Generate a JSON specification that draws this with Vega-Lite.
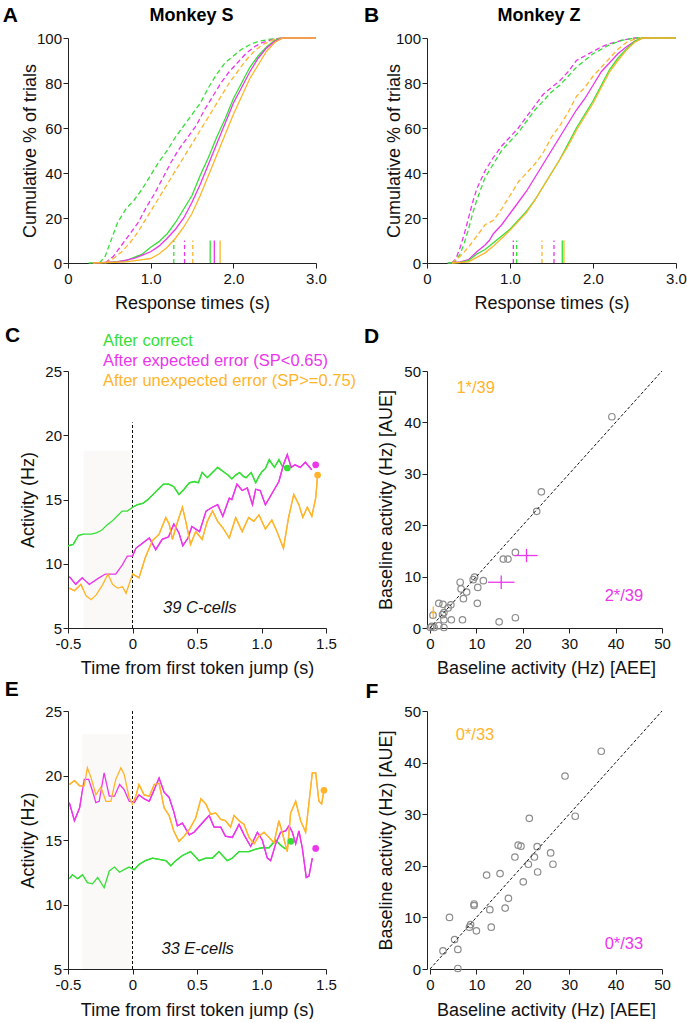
{
"$schema":"https://vega.github.io/schema/vega-lite/v6.json",
"padding":{"left":2,"top":5,"right":0,"bottom":0},
"bounds":"flush",
"columns":2,
"spacing":{"row":83,"column":101},
"config":{
 "font":"Liberation Sans",
 "view":{"stroke":null},
 "axis":{"grid":false,"domainColor":"#222222","tickColor":"#222222","domainWidth":1,"tickWidth":1,"labelFontSize":15,"labelColor":"#111111","titleFontSize":18,"titleFontWeight":"normal","titleColor":"#111111","labelFlush":false,"labelOverlap":false,"zindex":1,"titleAlign":"center","titleBaseline":"middle"},
 "axisX":{"labelPadding":3.5},
 "axisY":{"labelPadding":1.5}
},
"datasets":{
"cdfA":[
{"c":"g","s":"d","t":0.38,"p":0},{"c":"g","s":"d","t":0.45,"p":3},{"c":"g","s":"d","t":0.52,"p":10},{"c":"g","s":"d","t":0.6,"p":18},{"c":"g","s":"d","t":0.7,"p":24},{"c":"g","s":"d","t":0.8,"p":28},{"c":"g","s":"d","t":0.9,"p":33},{"c":"g","s":"d","t":1.0,"p":39},{"c":"g","s":"d","t":1.1,"p":45},{"c":"g","s":"d","t":1.2,"p":50},{"c":"g","s":"d","t":1.3,"p":56},{"c":"g","s":"d","t":1.4,"p":61},{"c":"g","s":"d","t":1.5,"p":66},{"c":"g","s":"d","t":1.6,"p":71},{"c":"g","s":"d","t":1.7,"p":78},{"c":"g","s":"d","t":1.8,"p":84},{"c":"g","s":"d","t":1.9,"p":89},{"c":"g","s":"d","t":2.0,"p":92},{"c":"g","s":"d","t":2.1,"p":95},{"c":"g","s":"d","t":2.2,"p":97},{"c":"g","s":"d","t":2.3,"p":98.5},{"c":"g","s":"d","t":2.45,"p":99.5},{"c":"g","s":"d","t":2.6,"p":100},{"c":"g","s":"d","t":3.0,"p":100},
{"c":"m","s":"d","t":0.45,"p":0},{"c":"m","s":"d","t":0.55,"p":3},{"c":"m","s":"d","t":0.65,"p":8},{"c":"m","s":"d","t":0.75,"p":13},{"c":"m","s":"d","t":0.85,"p":18},{"c":"m","s":"d","t":0.95,"p":25},{"c":"m","s":"d","t":1.05,"p":31},{"c":"m","s":"d","t":1.15,"p":38},{"c":"m","s":"d","t":1.25,"p":45},{"c":"m","s":"d","t":1.35,"p":51},{"c":"m","s":"d","t":1.45,"p":56},{"c":"m","s":"d","t":1.55,"p":61},{"c":"m","s":"d","t":1.65,"p":68},{"c":"m","s":"d","t":1.75,"p":74},{"c":"m","s":"d","t":1.85,"p":80},{"c":"m","s":"d","t":1.95,"p":85},{"c":"m","s":"d","t":2.05,"p":89},{"c":"m","s":"d","t":2.15,"p":93},{"c":"m","s":"d","t":2.25,"p":96},{"c":"m","s":"d","t":2.35,"p":98},{"c":"m","s":"d","t":2.5,"p":99.5},{"c":"m","s":"d","t":2.6,"p":100},{"c":"m","s":"d","t":3.0,"p":100},
{"c":"o","s":"d","t":0.45,"p":0},{"c":"o","s":"d","t":0.55,"p":2},{"c":"o","s":"d","t":0.65,"p":5},{"c":"o","s":"d","t":0.75,"p":9},{"c":"o","s":"d","t":0.85,"p":14},{"c":"o","s":"d","t":0.95,"p":20},{"c":"o","s":"d","t":1.05,"p":26},{"c":"o","s":"d","t":1.15,"p":32},{"c":"o","s":"d","t":1.25,"p":38},{"c":"o","s":"d","t":1.35,"p":44},{"c":"o","s":"d","t":1.45,"p":50},{"c":"o","s":"d","t":1.55,"p":56},{"c":"o","s":"d","t":1.65,"p":62},{"c":"o","s":"d","t":1.75,"p":68},{"c":"o","s":"d","t":1.85,"p":74},{"c":"o","s":"d","t":1.95,"p":80},{"c":"o","s":"d","t":2.05,"p":85},{"c":"o","s":"d","t":2.15,"p":90},{"c":"o","s":"d","t":2.25,"p":94},{"c":"o","s":"d","t":2.35,"p":97},{"c":"o","s":"d","t":2.5,"p":99.5},{"c":"o","s":"d","t":2.6,"p":100},{"c":"o","s":"d","t":3.0,"p":100},
{"c":"g","s":"s","t":0.25,"p":0},{"c":"g","s":"s","t":0.5,"p":0.3},{"c":"g","s":"s","t":0.7,"p":1},{"c":"g","s":"s","t":0.8,"p":2.5},{"c":"g","s":"s","t":0.9,"p":4},{"c":"g","s":"s","t":1.0,"p":7},{"c":"g","s":"s","t":1.1,"p":9.5},{"c":"g","s":"s","t":1.2,"p":13},{"c":"g","s":"s","t":1.3,"p":18},{"c":"g","s":"s","t":1.4,"p":24},{"c":"g","s":"s","t":1.5,"p":30},{"c":"g","s":"s","t":1.6,"p":39},{"c":"g","s":"s","t":1.7,"p":47},{"c":"g","s":"s","t":1.8,"p":56},{"c":"g","s":"s","t":1.9,"p":64},{"c":"g","s":"s","t":2.0,"p":73},{"c":"g","s":"s","t":2.1,"p":80},{"c":"g","s":"s","t":2.2,"p":87},{"c":"g","s":"s","t":2.3,"p":92},{"c":"g","s":"s","t":2.4,"p":96},{"c":"g","s":"s","t":2.5,"p":99},{"c":"g","s":"s","t":2.6,"p":100},{"c":"g","s":"s","t":3.0,"p":100},
{"c":"m","s":"s","t":0.3,"p":0},{"c":"m","s":"s","t":0.6,"p":0.5},{"c":"m","s":"s","t":0.8,"p":2},{"c":"m","s":"s","t":0.9,"p":3.5},{"c":"m","s":"s","t":1.0,"p":5},{"c":"m","s":"s","t":1.1,"p":7.5},{"c":"m","s":"s","t":1.2,"p":11},{"c":"m","s":"s","t":1.3,"p":15},{"c":"m","s":"s","t":1.4,"p":20},{"c":"m","s":"s","t":1.5,"p":27},{"c":"m","s":"s","t":1.6,"p":35},{"c":"m","s":"s","t":1.7,"p":44},{"c":"m","s":"s","t":1.8,"p":53},{"c":"m","s":"s","t":1.9,"p":62},{"c":"m","s":"s","t":2.0,"p":71},{"c":"m","s":"s","t":2.1,"p":78},{"c":"m","s":"s","t":2.2,"p":85},{"c":"m","s":"s","t":2.3,"p":91},{"c":"m","s":"s","t":2.4,"p":95.5},{"c":"m","s":"s","t":2.5,"p":98.5},{"c":"m","s":"s","t":2.6,"p":100},{"c":"m","s":"s","t":3.0,"p":100},
{"c":"o","s":"s","t":0.3,"p":0},{"c":"o","s":"s","t":0.7,"p":0.5},{"c":"o","s":"s","t":0.9,"p":1.5},{"c":"o","s":"s","t":1.0,"p":2},{"c":"o","s":"s","t":1.1,"p":4},{"c":"o","s":"s","t":1.2,"p":7},{"c":"o","s":"s","t":1.3,"p":11},{"c":"o","s":"s","t":1.4,"p":16},{"c":"o","s":"s","t":1.5,"p":22},{"c":"o","s":"s","t":1.6,"p":30},{"c":"o","s":"s","t":1.7,"p":39},{"c":"o","s":"s","t":1.8,"p":48},{"c":"o","s":"s","t":1.9,"p":57},{"c":"o","s":"s","t":2.0,"p":66},{"c":"o","s":"s","t":2.1,"p":74},{"c":"o","s":"s","t":2.2,"p":82},{"c":"o","s":"s","t":2.3,"p":88},{"c":"o","s":"s","t":2.4,"p":94},{"c":"o","s":"s","t":2.5,"p":98},{"c":"o","s":"s","t":2.6,"p":100},{"c":"o","s":"s","t":3.0,"p":100}
],
"cdfB":[
{"c":"m","s":"d","t":0.3,"p":0},{"c":"m","s":"d","t":0.35,"p":2},{"c":"m","s":"d","t":0.4,"p":7},{"c":"m","s":"d","t":0.45,"p":13},{"c":"m","s":"d","t":0.5,"p":20},{"c":"m","s":"d","t":0.55,"p":27},{"c":"m","s":"d","t":0.6,"p":33},{"c":"m","s":"d","t":0.65,"p":37},{"c":"m","s":"d","t":0.7,"p":41},{"c":"m","s":"d","t":0.8,"p":47},{"c":"m","s":"d","t":0.9,"p":52},{"c":"m","s":"d","t":1.0,"p":56},{"c":"m","s":"d","t":1.1,"p":60},{"c":"m","s":"d","t":1.2,"p":65},{"c":"m","s":"d","t":1.3,"p":70},{"c":"m","s":"d","t":1.4,"p":75},{"c":"m","s":"d","t":1.5,"p":78},{"c":"m","s":"d","t":1.6,"p":81},{"c":"m","s":"d","t":1.7,"p":85},{"c":"m","s":"d","t":1.8,"p":90},{"c":"m","s":"d","t":1.9,"p":92},{"c":"m","s":"d","t":2.0,"p":94},{"c":"m","s":"d","t":2.1,"p":96},{"c":"m","s":"d","t":2.2,"p":97.5},{"c":"m","s":"d","t":2.35,"p":99},{"c":"m","s":"d","t":2.5,"p":100},{"c":"m","s":"d","t":3.0,"p":100},
{"c":"g","s":"d","t":0.3,"p":0},{"c":"g","s":"d","t":0.35,"p":1},{"c":"g","s":"d","t":0.4,"p":4},{"c":"g","s":"d","t":0.45,"p":9},{"c":"g","s":"d","t":0.5,"p":15},{"c":"g","s":"d","t":0.55,"p":22},{"c":"g","s":"d","t":0.6,"p":28},{"c":"g","s":"d","t":0.65,"p":33},{"c":"g","s":"d","t":0.7,"p":38},{"c":"g","s":"d","t":0.8,"p":44},{"c":"g","s":"d","t":0.9,"p":50},{"c":"g","s":"d","t":1.0,"p":54},{"c":"g","s":"d","t":1.1,"p":58},{"c":"g","s":"d","t":1.2,"p":63},{"c":"g","s":"d","t":1.3,"p":68},{"c":"g","s":"d","t":1.4,"p":72},{"c":"g","s":"d","t":1.5,"p":76},{"c":"g","s":"d","t":1.6,"p":79},{"c":"g","s":"d","t":1.7,"p":83},{"c":"g","s":"d","t":1.8,"p":87},{"c":"g","s":"d","t":1.9,"p":90},{"c":"g","s":"d","t":2.0,"p":93},{"c":"g","s":"d","t":2.1,"p":95},{"c":"g","s":"d","t":2.2,"p":97},{"c":"g","s":"d","t":2.35,"p":99},{"c":"g","s":"d","t":2.5,"p":100},{"c":"g","s":"d","t":3.0,"p":100},
{"c":"o","s":"d","t":0.3,"p":0},{"c":"o","s":"d","t":0.4,"p":3},{"c":"o","s":"d","t":0.5,"p":7},{"c":"o","s":"d","t":0.6,"p":12},{"c":"o","s":"d","t":0.7,"p":17},{"c":"o","s":"d","t":0.8,"p":19},{"c":"o","s":"d","t":0.9,"p":24},{"c":"o","s":"d","t":1.0,"p":30},{"c":"o","s":"d","t":1.1,"p":36},{"c":"o","s":"d","t":1.2,"p":40},{"c":"o","s":"d","t":1.3,"p":44},{"c":"o","s":"d","t":1.4,"p":49},{"c":"o","s":"d","t":1.5,"p":56},{"c":"o","s":"d","t":1.6,"p":61},{"c":"o","s":"d","t":1.7,"p":67},{"c":"o","s":"d","t":1.8,"p":74},{"c":"o","s":"d","t":1.9,"p":78},{"c":"o","s":"d","t":2.0,"p":83},{"c":"o","s":"d","t":2.1,"p":87},{"c":"o","s":"d","t":2.2,"p":91},{"c":"o","s":"d","t":2.3,"p":95},{"c":"o","s":"d","t":2.4,"p":98},{"c":"o","s":"d","t":2.5,"p":99.5},{"c":"o","s":"d","t":2.6,"p":100},{"c":"o","s":"d","t":3.0,"p":100},
{"c":"m","s":"s","t":0.25,"p":0},{"c":"m","s":"s","t":0.4,"p":0.5},{"c":"m","s":"s","t":0.5,"p":1.5},{"c":"m","s":"s","t":0.6,"p":5},{"c":"m","s":"s","t":0.7,"p":8},{"c":"m","s":"s","t":0.75,"p":10},{"c":"m","s":"s","t":0.8,"p":13},{"c":"m","s":"s","t":0.9,"p":17},{"c":"m","s":"s","t":1.0,"p":22},{"c":"m","s":"s","t":1.1,"p":27},{"c":"m","s":"s","t":1.2,"p":32},{"c":"m","s":"s","t":1.3,"p":38},{"c":"m","s":"s","t":1.4,"p":44},{"c":"m","s":"s","t":1.5,"p":50},{"c":"m","s":"s","t":1.6,"p":56},{"c":"m","s":"s","t":1.7,"p":62},{"c":"m","s":"s","t":1.8,"p":68},{"c":"m","s":"s","t":1.9,"p":73},{"c":"m","s":"s","t":2.0,"p":79},{"c":"m","s":"s","t":2.1,"p":85},{"c":"m","s":"s","t":2.2,"p":89},{"c":"m","s":"s","t":2.3,"p":93},{"c":"m","s":"s","t":2.4,"p":96},{"c":"m","s":"s","t":2.5,"p":98.5},{"c":"m","s":"s","t":2.6,"p":100},{"c":"m","s":"s","t":3.0,"p":100},
{"c":"g","s":"s","t":0.25,"p":0},{"c":"g","s":"s","t":0.4,"p":0.3},{"c":"g","s":"s","t":0.5,"p":1},{"c":"g","s":"s","t":0.6,"p":4},{"c":"g","s":"s","t":0.7,"p":6},{"c":"g","s":"s","t":0.8,"p":9},{"c":"g","s":"s","t":0.9,"p":12},{"c":"g","s":"s","t":1.0,"p":15},{"c":"g","s":"s","t":1.1,"p":19},{"c":"g","s":"s","t":1.2,"p":23},{"c":"g","s":"s","t":1.3,"p":28},{"c":"g","s":"s","t":1.4,"p":34},{"c":"g","s":"s","t":1.5,"p":40},{"c":"g","s":"s","t":1.6,"p":46},{"c":"g","s":"s","t":1.7,"p":53},{"c":"g","s":"s","t":1.8,"p":60},{"c":"g","s":"s","t":1.9,"p":66},{"c":"g","s":"s","t":2.0,"p":72},{"c":"g","s":"s","t":2.1,"p":79},{"c":"g","s":"s","t":2.2,"p":86},{"c":"g","s":"s","t":2.3,"p":91},{"c":"g","s":"s","t":2.4,"p":95},{"c":"g","s":"s","t":2.5,"p":98.5},{"c":"g","s":"s","t":2.6,"p":100},{"c":"g","s":"s","t":3.0,"p":100},
{"c":"o","s":"s","t":0.3,"p":0},{"c":"o","s":"s","t":0.5,"p":0.5},{"c":"o","s":"s","t":0.6,"p":2.5},{"c":"o","s":"s","t":0.7,"p":4.5},{"c":"o","s":"s","t":0.8,"p":7.5},{"c":"o","s":"s","t":0.9,"p":11},{"c":"o","s":"s","t":1.0,"p":14.5},{"c":"o","s":"s","t":1.1,"p":18.5},{"c":"o","s":"s","t":1.2,"p":22.5},{"c":"o","s":"s","t":1.3,"p":28},{"c":"o","s":"s","t":1.4,"p":34},{"c":"o","s":"s","t":1.5,"p":40},{"c":"o","s":"s","t":1.6,"p":46},{"c":"o","s":"s","t":1.7,"p":52},{"c":"o","s":"s","t":1.8,"p":59},{"c":"o","s":"s","t":1.9,"p":65},{"c":"o","s":"s","t":2.0,"p":71},{"c":"o","s":"s","t":2.1,"p":78},{"c":"o","s":"s","t":2.2,"p":85},{"c":"o","s":"s","t":2.3,"p":90},{"c":"o","s":"s","t":2.4,"p":94.5},{"c":"o","s":"s","t":2.5,"p":98},{"c":"o","s":"s","t":2.6,"p":100},{"c":"o","s":"s","t":3.0,"p":100}
],
"medA":[{"c":"g","s":"d","t":1.28},{"c":"m","s":"d","t":1.41},{"c":"o","s":"d","t":1.51},{"c":"g","s":"s","t":1.72},{"c":"m","s":"s","t":1.77},{"c":"o","s":"s","t":1.84}],
"medB":[{"c":"m","s":"d","t":1.04},{"c":"g","s":"d","t":1.08},{"c":"o","s":"d","t":1.385},{"c":"m","s":"d","t":1.53},{"c":"g","s":"s","t":1.63},{"c":"o","s":"s","t":1.65}],
"tsC":[
{"c":"g","t":-0.5,"v":11.4},{"c":"g","t":-0.46,"v":11.5},{"c":"g","t":-0.42,"v":12.2},{"c":"g","t":-0.38,"v":12.3},{"c":"g","t":-0.32,"v":12.3},{"c":"g","t":-0.28,"v":12.4},{"c":"g","t":-0.24,"v":12.6},{"c":"g","t":-0.2,"v":13.0},{"c":"g","t":-0.16,"v":13.3},{"c":"g","t":-0.12,"v":13.7},{"c":"g","t":-0.08,"v":14.1},{"c":"g","t":-0.04,"v":14.1},{"c":"g","t":0,"v":14.4},{"c":"g","t":0.04,"v":14.6},{"c":"g","t":0.08,"v":14.7},{"c":"g","t":0.12,"v":15.0},{"c":"g","t":0.16,"v":15.4},{"c":"g","t":0.2,"v":15.8},{"c":"g","t":0.24,"v":16.2},{"c":"g","t":0.28,"v":16.2},{"c":"g","t":0.32,"v":16.0},{"c":"g","t":0.36,"v":15.4},{"c":"g","t":0.4,"v":15.8},{"c":"g","t":0.44,"v":16.3},{"c":"g","t":0.48,"v":16.4},{"c":"g","t":0.51,"v":16.3},{"c":"g","t":0.54,"v":17.1},{"c":"g","t":0.58,"v":16.7},{"c":"g","t":0.62,"v":17.1},{"c":"g","t":0.66,"v":17.5},{"c":"g","t":0.7,"v":17.2},{"c":"g","t":0.74,"v":16.9},{"c":"g","t":0.77,"v":16.6},{"c":"g","t":0.8,"v":16.9},{"c":"g","t":0.83,"v":17.1},{"c":"g","t":0.86,"v":16.8},{"c":"g","t":0.88,"v":16.7},{"c":"g","t":0.92,"v":17.1},{"c":"g","t":0.955,"v":16.3},{"c":"g","t":0.98,"v":16.8},{"c":"g","t":1.006,"v":17.2},{"c":"g","t":1.03,"v":17.4},{"c":"g","t":1.06,"v":18.1},{"c":"g","t":1.08,"v":17.8},{"c":"g","t":1.1,"v":17.5},{"c":"g","t":1.135,"v":18.1},{"c":"g","t":1.16,"v":17.6},{"c":"g","t":1.19,"v":17.5},
{"c":"m","t":-0.49,"v":9.0},{"c":"m","t":-0.44,"v":8.4},{"c":"m","t":-0.39,"v":8.9},{"c":"m","t":-0.335,"v":8.4},{"c":"m","t":-0.26,"v":8.9},{"c":"m","t":-0.21,"v":9.2},{"c":"m","t":-0.13,"v":9.2},{"c":"m","t":-0.08,"v":9.9},{"c":"m","t":-0.04,"v":10.6},{"c":"m","t":0,"v":10.6},{"c":"m","t":0.026,"v":11.2},{"c":"m","t":0.077,"v":11.6},{"c":"m","t":0.13,"v":12.0},{"c":"m","t":0.18,"v":11.1},{"c":"m","t":0.23,"v":11.9},{"c":"m","t":0.28,"v":12.1},{"c":"m","t":0.32,"v":13.1},{"c":"m","t":0.36,"v":12.4},{"c":"m","t":0.39,"v":11.4},{"c":"m","t":0.43,"v":12.0},{"c":"m","t":0.46,"v":12.9},{"c":"m","t":0.52,"v":12.5},{"c":"m","t":0.57,"v":14.1},{"c":"m","t":0.62,"v":14.4},{"c":"m","t":0.66,"v":14.6},{"c":"m","t":0.7,"v":13.7},{"c":"m","t":0.75,"v":15.1},{"c":"m","t":0.77,"v":15.0},{"c":"m","t":0.81,"v":16.2},{"c":"m","t":0.85,"v":15.7},{"c":"m","t":0.89,"v":15.9},{"c":"m","t":0.93,"v":14.6},{"c":"m","t":0.955,"v":15.8},{"c":"m","t":0.99,"v":15.7},{"c":"m","t":1.03,"v":14.6},{"c":"m","t":1.06,"v":15.1},{"c":"m","t":1.1,"v":15.8},{"c":"m","t":1.135,"v":16.4},{"c":"m","t":1.17,"v":17.7},{"c":"m","t":1.2,"v":18.5},{"c":"m","t":1.23,"v":17.5},{"c":"m","t":1.26,"v":17.7},{"c":"m","t":1.3,"v":17.5},{"c":"m","t":1.34,"v":17.9},{"c":"m","t":1.39,"v":17.3},
{"c":"o","t":-0.49,"v":8.1},{"c":"o","t":-0.45,"v":7.9},{"c":"o","t":-0.4,"v":8.4},{"c":"o","t":-0.36,"v":7.5},{"c":"o","t":-0.32,"v":7.2},{"c":"o","t":-0.28,"v":7.6},{"c":"o","t":-0.23,"v":8.4},{"c":"o","t":-0.19,"v":9.2},{"c":"o","t":-0.155,"v":8.4},{"c":"o","t":-0.116,"v":8.1},{"c":"o","t":-0.077,"v":8.2},{"c":"o","t":-0.05,"v":7.7},{"c":"o","t":-0.026,"v":8.4},{"c":"o","t":0,"v":9.2},{"c":"o","t":0.05,"v":8.9},{"c":"o","t":0.1,"v":10.5},{"c":"o","t":0.155,"v":11.8},{"c":"o","t":0.206,"v":12.3},{"c":"o","t":0.258,"v":13.6},{"c":"o","t":0.284,"v":13.1},{"c":"o","t":0.31,"v":11.9},{"c":"o","t":0.335,"v":12.8},{"c":"o","t":0.36,"v":13.6},{"c":"o","t":0.387,"v":14.4},{"c":"o","t":0.413,"v":13.3},{"c":"o","t":0.45,"v":11.5},{"c":"o","t":0.49,"v":12.5},{"c":"o","t":0.54,"v":11.9},{"c":"o","t":0.58,"v":13.3},{"c":"o","t":0.62,"v":14.1},{"c":"o","t":0.66,"v":13.3},{"c":"o","t":0.7,"v":12.8},{"c":"o","t":0.75,"v":12.0},{"c":"o","t":0.8,"v":13.6},{"c":"o","t":0.85,"v":12.5},{"c":"o","t":0.9,"v":13.6},{"c":"o","t":0.94,"v":13.3},{"c":"o","t":0.98,"v":13.8},{"c":"o","t":1.03,"v":12.7},{"c":"o","t":1.08,"v":13.4},{"c":"o","t":1.12,"v":12.5},{"c":"o","t":1.17,"v":11.2},{"c":"o","t":1.21,"v":13.6},{"c":"o","t":1.25,"v":15.4},{"c":"o","t":1.29,"v":14.6},{"c":"o","t":1.32,"v":13.6},{"c":"o","t":1.355,"v":14.4},{"c":"o","t":1.39,"v":13.7},{"c":"o","t":1.42,"v":15.1},{"c":"o","t":1.435,"v":16.9}
],
"dotC":[{"c":"g","t":1.2,"v":17.45},{"c":"m","t":1.42,"v":17.7},{"c":"o","t":1.435,"v":16.9}],
"tsE":[
{"c":"g","t":-0.49,"v":12.0},{"c":"g","t":-0.465,"v":12.3},{"c":"g","t":-0.425,"v":12.0},{"c":"g","t":-0.387,"v":12.3},{"c":"g","t":-0.35,"v":11.7},{"c":"g","t":-0.31,"v":11.6},{"c":"g","t":-0.27,"v":12.1},{"c":"g","t":-0.22,"v":11.3},{"c":"g","t":-0.18,"v":12.6},{"c":"g","t":-0.14,"v":12.9},{"c":"g","t":-0.1,"v":12.5},{"c":"g","t":-0.065,"v":12.7},{"c":"g","t":-0.026,"v":12.9},{"c":"g","t":0.013,"v":12.7},{"c":"g","t":0.05,"v":13.1},{"c":"g","t":0.1,"v":13.4},{"c":"g","t":0.155,"v":13.6},{"c":"g","t":0.206,"v":13.5},{"c":"g","t":0.258,"v":13.4},{"c":"g","t":0.297,"v":13.0},{"c":"g","t":0.335,"v":13.4},{"c":"g","t":0.387,"v":13.8},{"c":"g","t":0.45,"v":14.1},{"c":"g","t":0.516,"v":13.4},{"c":"g","t":0.568,"v":13.6},{"c":"g","t":0.62,"v":13.6},{"c":"g","t":0.67,"v":14.1},{"c":"g","t":0.735,"v":13.4},{"c":"g","t":0.774,"v":13.6},{"c":"g","t":0.826,"v":14.1},{"c":"g","t":0.903,"v":14.1},{"c":"g","t":0.955,"v":14.3},{"c":"g","t":1.006,"v":14.4},{"c":"g","t":1.058,"v":14.4},{"c":"g","t":1.11,"v":15.0},{"c":"g","t":1.148,"v":14.6},{"c":"g","t":1.187,"v":14.3},
{"c":"m","t":-0.49,"v":17.9},{"c":"m","t":-0.45,"v":16.5},{"c":"m","t":-0.41,"v":17.5},{"c":"m","t":-0.374,"v":19.7},{"c":"m","t":-0.34,"v":19.7},{"c":"m","t":-0.31,"v":18.8},{"c":"m","t":-0.284,"v":17.9},{"c":"m","t":-0.258,"v":18.0},{"c":"m","t":-0.22,"v":20.2},{"c":"m","t":-0.18,"v":18.4},{"c":"m","t":-0.14,"v":18.4},{"c":"m","t":-0.1,"v":19.3},{"c":"m","t":-0.065,"v":18.9},{"c":"m","t":-0.026,"v":18.0},{"c":"m","t":0.013,"v":17.9},{"c":"m","t":0.05,"v":18.5},{"c":"m","t":0.09,"v":18.2},{"c":"m","t":0.13,"v":18.0},{"c":"m","t":0.168,"v":18.9},{"c":"m","t":0.206,"v":19.8},{"c":"m","t":0.245,"v":18.7},{"c":"m","t":0.284,"v":18.3},{"c":"m","t":0.32,"v":17.2},{"c":"m","t":0.348,"v":16.1},{"c":"m","t":0.387,"v":16.3},{"c":"m","t":0.44,"v":15.4},{"c":"m","t":0.477,"v":15.6},{"c":"m","t":0.53,"v":16.2},{"c":"m","t":0.594,"v":16.9},{"c":"m","t":0.632,"v":16.0},{"c":"m","t":0.684,"v":16.0},{"c":"m","t":0.72,"v":15.3},{"c":"m","t":0.774,"v":15.2},{"c":"m","t":0.826,"v":16.2},{"c":"m","t":0.865,"v":15.4},{"c":"m","t":0.916,"v":14.5},{"c":"m","t":0.968,"v":15.6},{"c":"m","t":1.006,"v":15.0},{"c":"m","t":1.045,"v":13.6},{"c":"m","t":1.071,"v":13.4},{"c":"m","t":1.11,"v":14.7},{"c":"m","t":1.148,"v":15.6},{"c":"m","t":1.187,"v":15.7},{"c":"m","t":1.213,"v":16.1},{"c":"m","t":1.239,"v":15.6},{"c":"m","t":1.265,"v":14.7},{"c":"m","t":1.29,"v":15.7},{"c":"m","t":1.316,"v":14.4},{"c":"m","t":1.347,"v":12.1},{"c":"m","t":1.368,"v":12.2},{"c":"m","t":1.394,"v":13.6},
{"c":"o","t":-0.49,"v":19.3},{"c":"o","t":-0.45,"v":19.6},{"c":"o","t":-0.41,"v":19.2},{"c":"o","t":-0.374,"v":19.2},{"c":"o","t":-0.35,"v":20.6},{"c":"o","t":-0.32,"v":19.8},{"c":"o","t":-0.284,"v":18.5},{"c":"o","t":-0.245,"v":19.1},{"c":"o","t":-0.206,"v":18.0},{"c":"o","t":-0.168,"v":18.0},{"c":"o","t":-0.13,"v":19.7},{"c":"o","t":-0.09,"v":20.6},{"c":"o","t":-0.065,"v":20.1},{"c":"o","t":-0.026,"v":18.3},{"c":"o","t":0,"v":17.8},{"c":"o","t":0.026,"v":18.4},{"c":"o","t":0.05,"v":19.3},{"c":"o","t":0.09,"v":18.5},{"c":"o","t":0.13,"v":18.4},{"c":"o","t":0.168,"v":19.3},{"c":"o","t":0.206,"v":19.4},{"c":"o","t":0.245,"v":17.5},{"c":"o","t":0.284,"v":16.9},{"c":"o","t":0.32,"v":15.7},{"c":"o","t":0.36,"v":14.9},{"c":"o","t":0.4,"v":15.3},{"c":"o","t":0.44,"v":15.8},{"c":"o","t":0.49,"v":16.7},{"c":"o","t":0.53,"v":18.2},{"c":"o","t":0.568,"v":17.8},{"c":"o","t":0.606,"v":17.0},{"c":"o","t":0.645,"v":17.1},{"c":"o","t":0.684,"v":16.6},{"c":"o","t":0.72,"v":16.5},{"c":"o","t":0.76,"v":16.0},{"c":"o","t":0.787,"v":16.9},{"c":"o","t":0.826,"v":16.5},{"c":"o","t":0.865,"v":16.2},{"c":"o","t":0.903,"v":15.2},{"c":"o","t":0.942,"v":14.7},{"c":"o","t":0.98,"v":15.3},{"c":"o","t":1.02,"v":15.6},{"c":"o","t":1.058,"v":15.2},{"c":"o","t":1.097,"v":14.8},{"c":"o","t":1.135,"v":16.5},{"c":"o","t":1.16,"v":15.6},{"c":"o","t":1.2,"v":14.1},{"c":"o","t":1.226,"v":17.1},{"c":"o","t":1.265,"v":18.0},{"c":"o","t":1.303,"v":16.5},{"c":"o","t":1.342,"v":15.6},{"c":"o","t":1.394,"v":20.2},{"c":"o","t":1.42,"v":20.2},{"c":"o","t":1.445,"v":18.0},{"c":"o","t":1.466,"v":17.8},{"c":"o","t":1.484,"v":18.85}
],
"dotE":[{"c":"g","t":1.228,"v":14.9},{"c":"m","t":1.42,"v":14.35},{"c":"o","t":1.484,"v":18.85}],
"scD":[{"x":39.2,"y":41.1},{"x":24.0,"y":26.5},{"x":23.0,"y":22.7},{"x":18.4,"y":14.7},{"x":15.8,"y":13.4},{"x":16.8,"y":13.4},{"x":9.6,"y":9.9},{"x":9.3,"y":9.4},{"x":11.5,"y":9.2},{"x":6.5,"y":8.9},{"x":6.7,"y":7.6},{"x":7.9,"y":7.0},{"x":7.2,"y":5.7},{"x":10.3,"y":7.9},{"x":10.2,"y":4.8},{"x":4.5,"y":4.5},{"x":3.9,"y":3.9},{"x":1.9,"y":4.8},{"x":2.8,"y":4.6},{"x":3.0,"y":3.0},{"x":2.7,"y":2.6},{"x":0.65,"y":2.5},{"x":4.6,"y":1.6},{"x":7.0,"y":1.6},{"x":14.9,"y":1.2},{"x":18.4,"y":2.0},{"x":3.0,"y":1.6},{"x":1.9,"y":0.45},{"x":0.4,"y":0.3},{"x":0.9,"y":0.1},{"x":3.0,"y":0.1},{"x":0.1,"y":0.1}],
"errD":[{"c":"m","x":15.35,"y":8.9,"xlo":12.5,"xhi":18.2,"ylo":7.6,"yhi":10.2},{"c":"m","x":20.8,"y":14.1,"xlo":18.2,"xhi":23.2,"ylo":12.8,"yhi":15.4},{"c":"o","x":0.7,"y":3.0,"xlo":0.3,"xhi":1.1,"ylo":1.9,"yhi":4.2}],
"scF":[{"x":36.9,"y":42.2},{"x":29.1,"y":37.4},{"x":31.3,"y":29.6},{"x":21.4,"y":29.2},{"x":19.0,"y":24.0},{"x":19.6,"y":23.8},{"x":23.1,"y":23.7},{"x":26.0,"y":22.5},{"x":18.3,"y":21.7},{"x":22.5,"y":21.7},{"x":21.2,"y":20.3},{"x":26.5,"y":20.3},{"x":23.2,"y":18.8},{"x":20.1,"y":16.9},{"x":15.1,"y":18.5},{"x":12.2,"y":18.2},{"x":16.9,"y":13.7},{"x":16.2,"y":11.8},{"x":12.9,"y":11.5},{"x":13.2,"y":8.1},{"x":9.5,"y":12.6},{"x":9.5,"y":12.3},{"x":4.2,"y":10.0},{"x":8.5,"y":8.1},{"x":8.75,"y":8.6},{"x":10.0,"y":7.4},{"x":5.3,"y":5.7},{"x":6.0,"y":3.8},{"x":2.8,"y":3.5},{"x":6.0,"y":0.1}]
},
"concat":[
{
 "width":258,"height":225,
 "layer":[
  {"data":{"name":"cdfA"},"transform":[{"filter":"datum.s=='d'"}],"mark":{"type":"line","strokeWidth":1.3,"strokeDash":[5,3]},
   "encoding":{"x":{"field":"t","type":"quantitative","scale":{"domain":[0,3],"range":[0,248],"nice":false,"zero":false},"axis":{"values":[0,1,2,3],"labelExpr":"datum.value==0?'0':format(datum.value,'.1f')","title":"Response times (s)","titleX":124,"titleY":40,"encoding":{"ticks":{"enter":{"y2":{"value":-5}},"update":{"y2":{"value":-5}}}}}},
    "y":{"field":"p","type":"quantitative","scale":{"domain":[0,100],"nice":false,"zero":false},"axis":{"values":[0,20,40,60,80,100],"title":"Cumulative % of trials","titleX":-38,"titleY":112.5,"encoding":{"ticks":{"enter":{"x2":{"value":5}},"update":{"x2":{"value":5}}}}}},
    "color":{"field":"c","type":"nominal","scale":{"domain":["g","m","o"],"range":["#36df36","#ec36ec","#ffb42a"]},"legend":null}}},
  {"data":{"name":"cdfA"},"transform":[{"filter":"datum.s=='s'"}],"mark":{"type":"line","strokeWidth":1.3},
   "encoding":{"x":{"field":"t","type":"quantitative"},"y":{"field":"p","type":"quantitative"},"color":{"field":"c","type":"nominal","legend":null}}},
  {"data":{"name":"medA"},"transform":[{"filter":"datum.s=='d'"}],"mark":{"type":"rule","strokeWidth":1.3,"strokeDash":[4,3]},
   "encoding":{"x":{"field":"t","type":"quantitative"},"y":{"datum":0,"type":"quantitative"},"y2":{"datum":10},"color":{"field":"c","type":"nominal","legend":null}}},
  {"data":{"name":"medA"},"transform":[{"filter":"datum.s=='s'"}],"mark":{"type":"rule","strokeWidth":1.3},
   "encoding":{"x":{"field":"t","type":"quantitative"},"y":{"datum":0,"type":"quantitative"},"y2":{"datum":10},"color":{"field":"c","type":"nominal","legend":null}}},
  {"data":{"values":[{}]},"mark":{"type":"text","text":"Monkey S","fontSize":18,"fontWeight":"bold","align":"center","baseline":"middle","color":"#000000"},
   "encoding":{"x":{"datum":1.494,"type":"quantitative"},"y":{"datum":109.8,"type":"quantitative"}}},
  {"data":{"values":[{}]},"mark":{"type":"text","text":"A","fontSize":21,"fontWeight":"bold","align":"left","baseline":"middle","color":"#000000"},
   "encoding":{"x":{"datum":-0.79,"type":"quantitative"},"y":{"datum":109.6,"type":"quantitative"}}}
 ]
},
{
 "width":249,"height":225,
 "layer":[
  {"data":{"name":"cdfB"},"transform":[{"filter":"datum.s=='d'"}],"mark":{"type":"line","strokeWidth":1.3,"strokeDash":[5,3]},
   "encoding":{"x":{"field":"t","type":"quantitative","scale":{"domain":[0,3],"nice":false,"zero":false},"axis":{"values":[0,1,2,3],"labelExpr":"datum.value==0?'0':format(datum.value,'.1f')","title":"Response times (s)","titleX":124.5,"titleY":40,"encoding":{"ticks":{"enter":{"y2":{"value":-5}},"update":{"y2":{"value":-5}}}}}},
    "y":{"field":"p","type":"quantitative","scale":{"domain":[0,100],"nice":false,"zero":false},"axis":{"values":[0,20,40,60,80,100],"title":"Cumulative % of trials","titleX":-33,"titleY":112.5,"encoding":{"ticks":{"enter":{"x2":{"value":5}},"update":{"x2":{"value":5}}}}}},
    "color":{"field":"c","type":"nominal","scale":{"domain":["g","m","o"],"range":["#36df36","#ec36ec","#ffb42a"]},"legend":null}}},
  {"data":{"name":"cdfB"},"transform":[{"filter":"datum.s=='s'"}],"mark":{"type":"line","strokeWidth":1.3},
   "encoding":{"x":{"field":"t","type":"quantitative"},"y":{"field":"p","type":"quantitative"},"color":{"field":"c","type":"nominal","legend":null}}},
  {"data":{"name":"medB"},"transform":[{"filter":"datum.s=='d'"}],"mark":{"type":"rule","strokeWidth":1.3,"strokeDash":[4,3]},
   "encoding":{"x":{"field":"t","type":"quantitative"},"y":{"datum":0,"type":"quantitative"},"y2":{"datum":10},"color":{"field":"c","type":"nominal","legend":null}}},
  {"data":{"name":"medB"},"transform":[{"filter":"datum.s=='s'"}],"mark":{"type":"rule","strokeWidth":1.3},
   "encoding":{"x":{"field":"t","type":"quantitative"},"y":{"datum":0,"type":"quantitative"},"y2":{"datum":10},"color":{"field":"c","type":"nominal","legend":null}}},
  {"data":{"values":[{}]},"mark":{"type":"text","text":"Monkey Z","fontSize":18,"fontWeight":"bold","align":"center","baseline":"middle","color":"#000000"},
   "encoding":{"x":{"datum":1.35,"type":"quantitative"},"y":{"datum":109.8,"type":"quantitative"}}},
  {"data":{"values":[{}]},"mark":{"type":"text","text":"B","fontSize":21,"fontWeight":"bold","align":"left","baseline":"middle","color":"#000000"},
   "encoding":{"x":{"datum":-0.759,"type":"quantitative"},"y":{"datum":109.6,"type":"quantitative"}}}
 ]
},
{
 "width":258,"height":282,
 "layer":[
  {"data":{"name":"tsC"},"mark":{"type":"line","strokeWidth":1.3},
   "encoding":{"x":{"field":"t","type":"quantitative","scale":{"domain":[-0.5,1.5],"nice":false,"zero":false},"axis":{"values":[-0.5,0,0.5,1,1.5],"labelExpr":"datum.value==0?'0':datum.value<0?'-0.5':format(datum.value,'.1f')","title":"Time from first token jump (s)","titleX":129,"titleY":40,"encoding":{"ticks":{"enter":{"y2":{"value":-5}},"update":{"y2":{"value":-5}}}}}},
    "y":{"field":"v","type":"quantitative","scale":{"domain":[5,25],"range":[282,25],"nice":false,"zero":false},"axis":{"values":[5,10,15,20,25],"title":"Activity (Hz)","titleX":-40,"titleY":153.5,"encoding":{"ticks":{"enter":{"x2":{"value":5}},"update":{"x2":{"value":5}}}}}},
    "color":{"field":"c","type":"nominal","scale":{"domain":["g","m","o"],"range":["#36df36","#ec36ec","#ffb42a"]},"legend":null}}},
  {"data":{"values":[{}]},"mark":{"type":"rect","color":"#faf9f7"},
   "encoding":{"x":{"datum":-0.38,"type":"quantitative"},"x2":{"datum":0},"y":{"datum":5,"type":"quantitative"},"y2":{"datum":18.8}}},
  {"data":{"values":[{}]},"mark":{"type":"rule","color":"#111111","strokeWidth":1,"strokeDash":[3,2]},
   "encoding":{"x":{"datum":0,"type":"quantitative"},"y":{"datum":5,"type":"quantitative"},"y2":{"datum":21}}},
  {"data":{"name":"tsC"},"mark":{"type":"line","strokeWidth":1.3},
   "encoding":{"x":{"field":"t","type":"quantitative"},"y":{"field":"v","type":"quantitative"},"color":{"field":"c","type":"nominal","legend":null}}},
  {"data":{"name":"dotC"},"mark":{"type":"point","shape":"circle","filled":true,"size":45,"opacity":1},
   "encoding":{"x":{"field":"t","type":"quantitative"},"y":{"field":"v","type":"quantitative"},"color":{"field":"c","type":"nominal","legend":null}}},
  {"data":{"values":[{}]},"mark":{"type":"text","text":"After correct","fontSize":16.5,"align":"left","baseline":"middle","color":"#36df36"},
   "encoding":{"x":{"datum":-0.229,"type":"quantitative"},"y":{"datum":27.33,"type":"quantitative"}}},
  {"data":{"values":[{}]},"mark":{"type":"text","text":"After expected error (SP<0.65)","fontSize":16.5,"align":"left","baseline":"middle","color":"#ec36ec"},
   "encoding":{"x":{"datum":-0.229,"type":"quantitative"},"y":{"datum":25.78,"type":"quantitative"}}},
  {"data":{"values":[{}]},"mark":{"type":"text","text":"After unexpected error (SP>=0.75)","fontSize":16.5,"align":"left","baseline":"middle","color":"#ffb42a"},
   "encoding":{"x":{"datum":-0.229,"type":"quantitative"},"y":{"datum":24.22,"type":"quantitative"}}},
  {"data":{"values":[{}]},"mark":{"type":"text","text":"39 C-cells","fontSize":16.5,"fontStyle":"italic","align":"center","baseline":"middle","color":"#111111"},
   "encoding":{"x":{"datum":0.521,"type":"quantitative"},"y":{"datum":6.58,"type":"quantitative"}}},
  {"data":{"values":[{}]},"mark":{"type":"text","text":"C","fontSize":21,"fontWeight":"bold","align":"left","baseline":"middle","color":"#000000"},
   "encoding":{"x":{"datum":-0.988,"type":"quantitative"},"y":{"datum":27.69,"type":"quantitative"}}}
 ]
},
{
 "width":235,"height":282,
 "layer":[
  {"data":{"name":"scD"},"mark":{"type":"point","shape":"circle","filled":false,"size":42,"strokeWidth":1.2,"color":"#8c8c8c","opacity":1},
   "encoding":{"x":{"field":"x","type":"quantitative","scale":{"domain":[0,50],"range":[3,235],"nice":false,"zero":false},"axis":{"values":[0,10,20,30,40,50],"title":"Baseline activity (Hz) [AEE]","titleX":119,"titleY":40,"encoding":{"ticks":{"enter":{"y2":{"value":-5}},"update":{"y2":{"value":-5}}}}}},
    "y":{"field":"y","type":"quantitative","scale":{"domain":[0,50],"range":[282,25],"nice":false,"zero":false},"axis":{"values":[0,10,20,30,40,50],"title":"Baseline activity (Hz) [AUE]","titleX":-41,"titleY":153.5,"encoding":{"ticks":{"enter":{"x2":{"value":5}},"update":{"x2":{"value":5}}}}}}}},
  {"data":{"values":[{}]},"mark":{"type":"rule","color":"#111111","strokeWidth":1,"strokeDash":[3,2]},
   "encoding":{"x":{"datum":0,"type":"quantitative"},"y":{"datum":0,"type":"quantitative"},"x2":{"datum":50},"y2":{"datum":50}}},
  {"data":{"name":"errD"},"mark":{"type":"rule","strokeWidth":1.3},
   "encoding":{"x":{"field":"xlo","type":"quantitative"},"x2":{"field":"xhi"},"y":{"field":"y","type":"quantitative"},
    "color":{"field":"c","type":"nominal","scale":{"domain":["g","m","o"],"range":["#36df36","#ec36ec","#ffb42a"]},"legend":null}}},
  {"data":{"name":"errD"},"mark":{"type":"rule","strokeWidth":1.3},
   "encoding":{"x":{"field":"x","type":"quantitative"},"y":{"field":"ylo","type":"quantitative"},"y2":{"field":"yhi"},
    "color":{"field":"c","type":"nominal","legend":null}}},
  {"data":{"values":[{}]},"mark":{"type":"text","text":"1*/39","fontSize":16.5,"align":"center","baseline":"middle","color":"#ffb42a"},
   "encoding":{"x":{"datum":9.85,"type":"quantitative"},"y":{"datum":46.75,"type":"quantitative"}}},
  {"data":{"values":[{}]},"mark":{"type":"text","text":"2*/39","fontSize":16.5,"align":"center","baseline":"middle","color":"#ec36ec"},
   "encoding":{"x":{"datum":41.8,"type":"quantitative"},"y":{"datum":6.2,"type":"quantitative"}}},
  {"data":{"values":[{}]},"mark":{"type":"text","text":"D","fontSize":21,"fontWeight":"bold","align":"left","baseline":"middle","color":"#000000"},
   "encoding":{"x":{"datum":-14.2,"type":"quantitative"},"y":{"datum":56.7,"type":"quantitative"}}}
 ]
},
{
 "width":258,"height":258,
 "layer":[
  {"data":{"name":"tsE"},"mark":{"type":"line","strokeWidth":1.3},
   "encoding":{"x":{"field":"t","type":"quantitative","scale":{"domain":[-0.5,1.5],"nice":false,"zero":false},"axis":{"values":[-0.5,0,0.5,1,1.5],"labelExpr":"datum.value==0?'0':datum.value<0?'-0.5':format(datum.value,'.1f')","title":"Time from first token jump (s)","titleX":129,"titleY":41,"encoding":{"ticks":{"enter":{"y2":{"value":-5}},"update":{"y2":{"value":-5}}}}}},
    "y":{"field":"v","type":"quantitative","scale":{"domain":[5,25],"nice":false,"zero":false},"axis":{"values":[5,10,15,20,25],"title":"Activity (Hz)","titleX":-40,"titleY":129,"encoding":{"ticks":{"enter":{"x2":{"value":5}},"update":{"x2":{"value":5}}}}}},
    "color":{"field":"c","type":"nominal","scale":{"domain":["g","m","o"],"range":["#36df36","#ec36ec","#ffb42a"]},"legend":null}}},
  {"data":{"values":[{}]},"mark":{"type":"rect","color":"#faf9f7"},
   "encoding":{"x":{"datum":-0.39,"type":"quantitative"},"x2":{"datum":0},"y":{"datum":5,"type":"quantitative"},"y2":{"datum":23.2}}},
  {"data":{"values":[{}]},"mark":{"type":"rule","color":"#111111","strokeWidth":1,"strokeDash":[3,2]},
   "encoding":{"x":{"datum":0,"type":"quantitative"},"y":{"datum":5,"type":"quantitative"},"y2":{"datum":25}}},
  {"data":{"name":"tsE"},"mark":{"type":"line","strokeWidth":1.3},
   "encoding":{"x":{"field":"t","type":"quantitative"},"y":{"field":"v","type":"quantitative"},"color":{"field":"c","type":"nominal","legend":null}}},
  {"data":{"name":"dotE"},"mark":{"type":"point","shape":"circle","filled":true,"size":45,"opacity":1},
   "encoding":{"x":{"field":"t","type":"quantitative"},"y":{"field":"v","type":"quantitative"},"color":{"field":"c","type":"nominal","legend":null}}},
  {"data":{"values":[{}]},"mark":{"type":"text","text":"33 E-cells","fontSize":16.5,"fontStyle":"italic","align":"center","baseline":"middle","color":"#111111"},
   "encoding":{"x":{"datum":0.505,"type":"quantitative"},"y":{"datum":6.55,"type":"quantitative"}}},
  {"data":{"values":[{}]},"mark":{"type":"text","text":"E","fontSize":21,"fontWeight":"bold","align":"left","baseline":"middle","color":"#000000"},
   "encoding":{"x":{"datum":-0.99,"type":"quantitative"},"y":{"datum":26.65,"type":"quantitative"}}}
 ]
},
{
 "width":235,"height":258,
 "layer":[
  {"data":{"name":"scF"},"mark":{"type":"point","shape":"circle","filled":false,"size":42,"strokeWidth":1.2,"color":"#8c8c8c","opacity":1},
   "encoding":{"x":{"field":"x","type":"quantitative","scale":{"domain":[0,50],"range":[3,235],"nice":false,"zero":false},"axis":{"values":[0,10,20,30,40,50],"title":"Baseline activity (Hz) [AEE]","titleX":119,"titleY":41,"encoding":{"ticks":{"enter":{"y2":{"value":-5}},"update":{"y2":{"value":-5}}}}}},
    "y":{"field":"y","type":"quantitative","scale":{"domain":[0,50],"nice":false,"zero":false},"axis":{"values":[0,10,20,30,40,50],"title":"Baseline activity (Hz) [AUE]","titleX":-41,"titleY":129,"encoding":{"ticks":{"enter":{"x2":{"value":5}},"update":{"x2":{"value":5}}}}}}}},
  {"data":{"values":[{}]},"mark":{"type":"rule","color":"#111111","strokeWidth":1,"strokeDash":[3,2]},
   "encoding":{"x":{"datum":0,"type":"quantitative"},"y":{"datum":0,"type":"quantitative"},"x2":{"datum":50},"y2":{"datum":50}}},
  {"data":{"values":[{}]},"mark":{"type":"text","text":"0*/33","fontSize":16.5,"align":"center","baseline":"middle","color":"#ffb42a"},
   "encoding":{"x":{"datum":9.7,"type":"quantitative"},"y":{"datum":45.3,"type":"quantitative"}}},
  {"data":{"values":[{}]},"mark":{"type":"text","text":"0*/33","fontSize":16.5,"align":"center","baseline":"middle","color":"#ec36ec"},
   "encoding":{"x":{"datum":41.8,"type":"quantitative"},"y":{"datum":4.9,"type":"quantitative"}}},
  {"data":{"values":[{}]},"mark":{"type":"text","text":"F","fontSize":21,"fontWeight":"bold","align":"left","baseline":"middle","color":"#000000"},
   "encoding":{"x":{"datum":-13.9,"type":"quantitative"},"y":{"datum":53.6,"type":"quantitative"}}}
 ]
}
]
}
